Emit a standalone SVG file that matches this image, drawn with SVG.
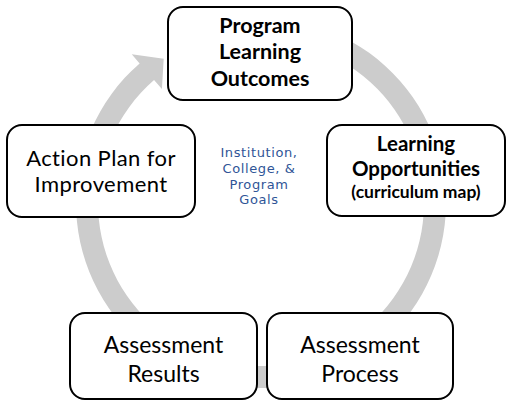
<svg xmlns="http://www.w3.org/2000/svg" width="508" height="400" viewBox="0 0 508 400">
  <style>
    .box { fill: #ffffff; stroke: #000000; stroke-width: 2; }
    .ring { fill: #cccccc; stroke: none; }
    .bold { font-family: Lato, "Liberation Sans", sans-serif; font-weight: bold; fill: #000000; text-anchor: middle; }
    .reg { font-family: Lato, "Liberation Sans", sans-serif; fill: #000000; text-anchor: middle; }
    .goal { font-family: "DejaVu Sans", sans-serif; font-size: 13px; letter-spacing: 0.6px; fill: #2f5597; text-anchor: middle; }
  </style>

  <!-- circular cycle arrow running clockwise behind the nodes -->
  <g id="connectors">
    <path class="ring" d="M 293.13 20.81 A 185 185 0 1 1 139.63 63.38 L 131.76 54.32 L 163.70 58.75 L 161.93 89.04 L 154.06 79.98 A 163 163 0 1 0 289.3 42.48 Z"/>
  </g>

  <g id="program-learning-outcomes">
    <rect class="box" x="168" y="7" width="184" height="93" rx="15"/>
    <text class="bold" font-size="21.5" x="260" y="33">Program</text>
    <text class="bold" font-size="21.5" x="260" y="59">Learning</text>
    <text class="bold" font-size="21.5" x="260" y="86">Outcomes</text>
  </g>

  <g id="learning-opportunities">
    <rect class="box" x="327" y="125" width="178" height="91" rx="15"/>
    <text class="bold" font-size="20.5" x="416" y="151">Learning</text>
    <text class="bold" font-size="20.5" x="416" y="176">Opportunities</text>
    <text class="bold" font-size="17.5" x="416" y="198">(curriculum map)</text>
  </g>

  <g id="assessment-process">
    <rect class="box" x="267" y="313" width="186" height="86" rx="15"/>
    <text class="reg" font-size="23" x="360" y="353">Assessment</text>
    <text class="reg" font-size="23" x="360" y="382">Process</text>
  </g>

  <g id="assessment-results">
    <rect class="box" x="70" y="313" width="187" height="86" rx="15"/>
    <text class="reg" font-size="23" x="163.5" y="353">Assessment</text>
    <text class="reg" font-size="23" x="163.5" y="382">Results</text>
  </g>

  <g id="action-plan">
    <rect class="box" x="7" y="125" width="188" height="92" rx="15"/>
    <text class="reg" font-size="22" letter-spacing="0.4" x="101" y="166">Action Plan for</text>
    <text class="reg" font-size="22" letter-spacing="0.4" x="101" y="192">Improvement</text>
  </g>

  <g id="goals">
    <text class="goal" x="259" y="157">Institution,</text>
    <text class="goal" x="259" y="173">College, &amp;</text>
    <text class="goal" x="259" y="189">Program</text>
    <text class="goal" x="259" y="204">Goals</text>
  </g>
</svg>
